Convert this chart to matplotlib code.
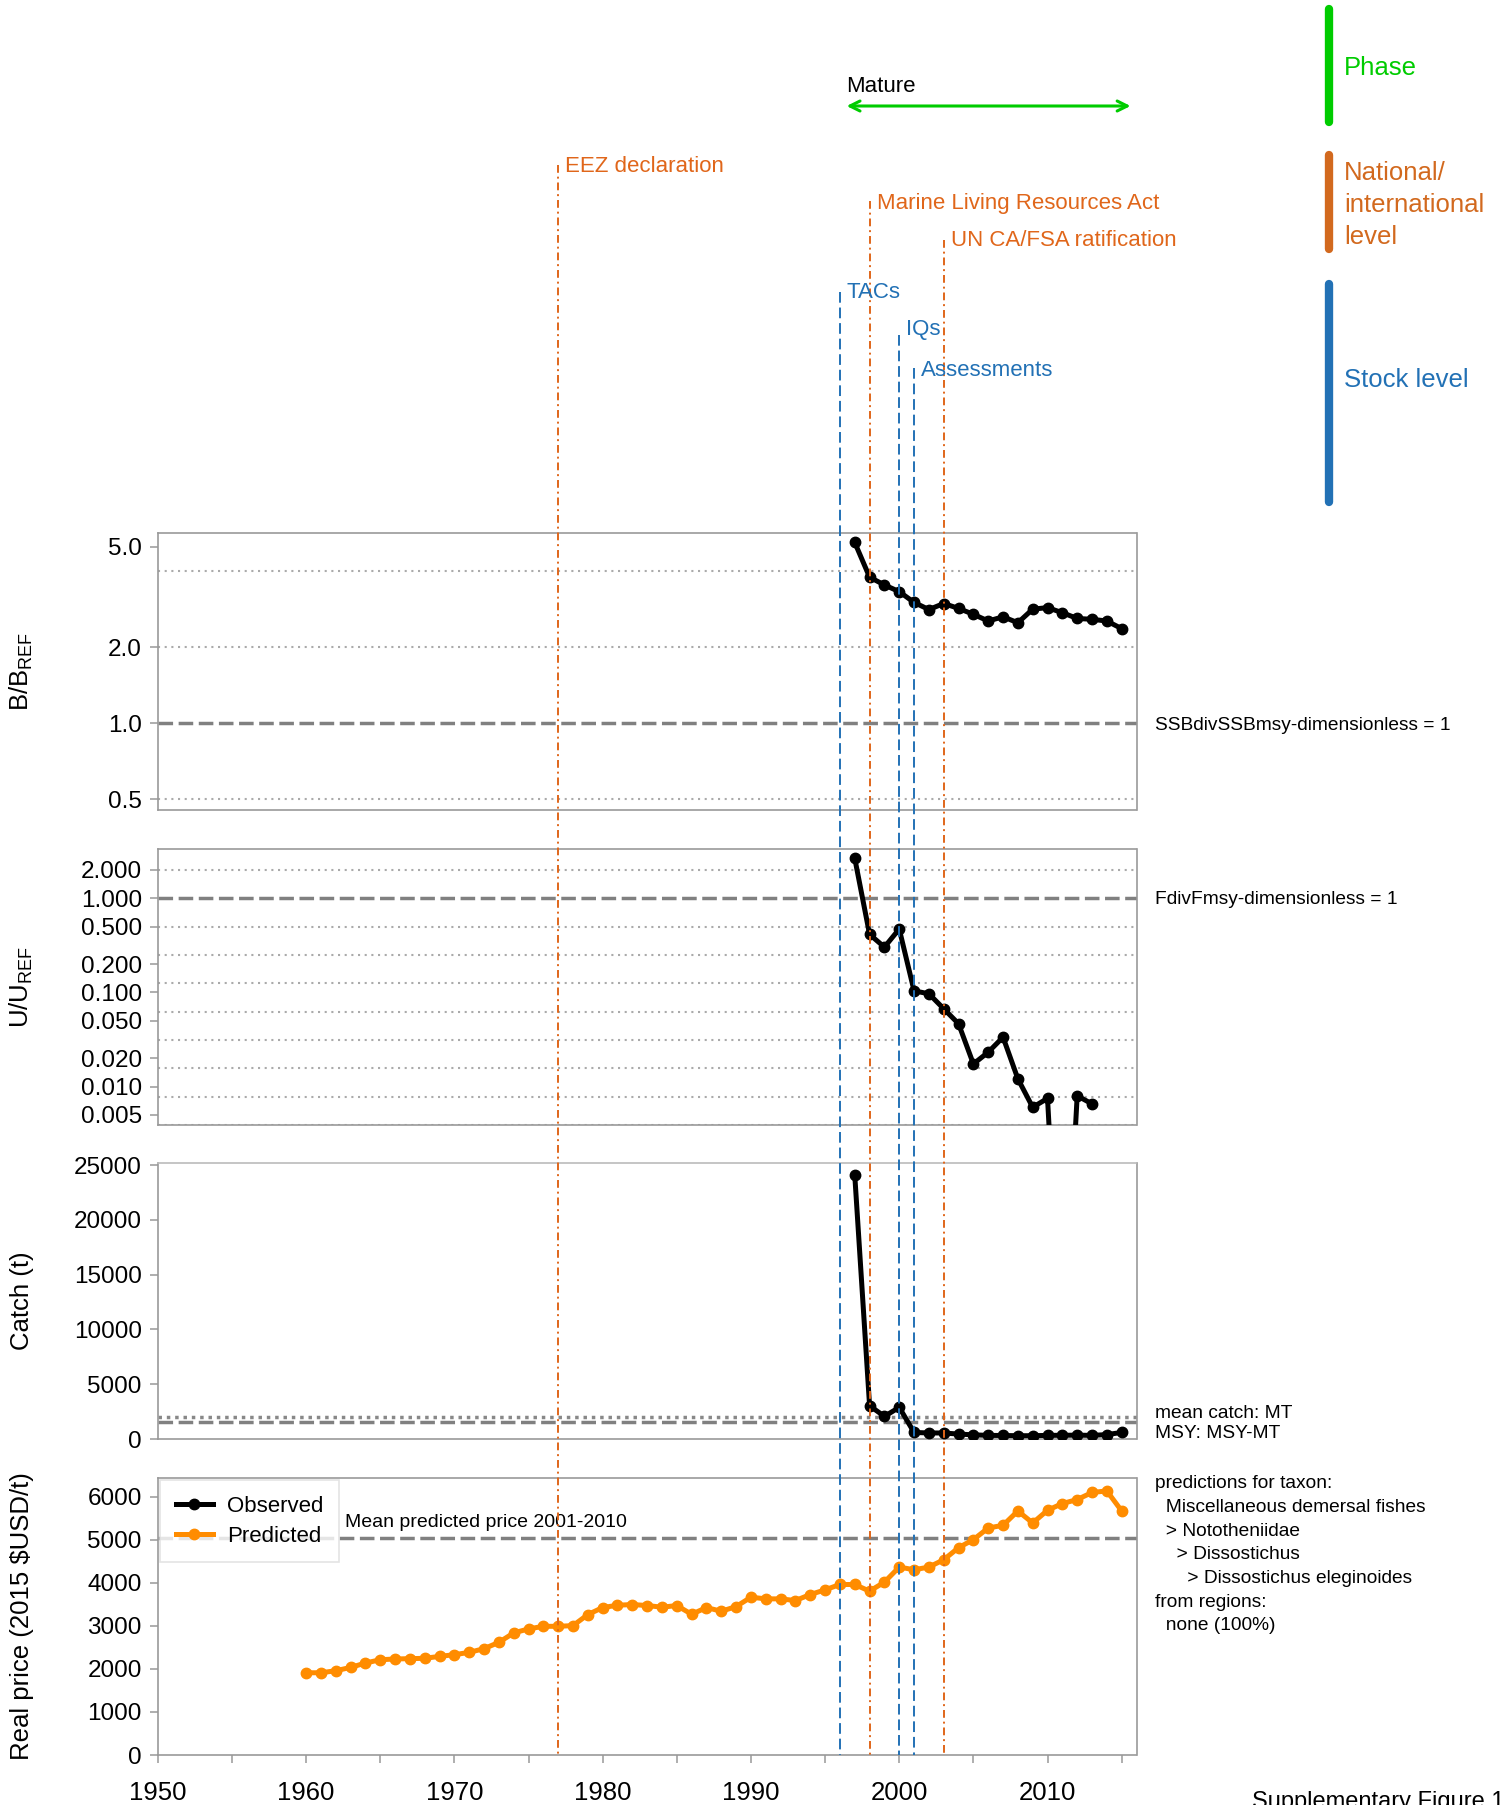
import numpy as np
import matplotlib
matplotlib.use('Agg')
import matplotlib.pyplot as plt
from matplotlib.ticker import FixedLocator, NullLocator, FixedFormatter

plt.rcParams['font.family'] = ['Liberation Sans', 'DejaVu Sans']
plt.rcParams['mathtext.fontset'] = 'custom'
plt.rcParams['mathtext.rm'] = 'Liberation Sans'
plt.rcParams['mathtext.it'] = 'Liberation Sans:italic'

# ---------------------------------------------------------------
# data
# ---------------------------------------------------------------
stock_years = np.arange(1997, 2016)
b_ratio = [5.2, 3.79, 3.53, 3.32, 3.01, 2.82, 2.98, 2.85, 2.70, 2.54,
           2.64, 2.50, 2.83, 2.87, 2.74, 2.60, 2.58, 2.54, 2.37]
u_ratio = [2.66, 0.414, 0.303, 0.472, 0.104, 0.0968, 0.0671, 0.0465, 0.0174, 0.0232,
           0.0335, 0.0121, 0.00603, 0.0075, 1e-5, 0.0080, 0.00655, np.nan, np.nan]
catch = [24090, 3040, 2065, 2890, 600, 550, 550, 450, 380, 330,
         320, 300, 300, 330, 340, 350, 330, 400, 600]
msy = 1520

price_years = np.arange(1960, 2016)
price_pred = [1912, 1912, 1959, 2036, 2138, 2215, 2232, 2240, 2248, 2293,
              2332, 2386, 2472, 2619, 2838, 2931, 2992, 2992, 3008, 3265,
              3428, 3482, 3498, 3475, 3436, 3475, 3272, 3428, 3342, 3451,
              3669, 3630, 3630, 3591, 3731, 3840, 3964, 3964, 3809, 4019,
              4369, 4307, 4369, 4540, 4820, 5007, 5278, 5340, 5674, 5394,
              5690, 5846, 5939, 6103, 6140, 5674]

# management events
event_years = [1977, 1998, 2003, 1996, 2000, 2001]
event_labels = ['EEZ declaration', 'Marine Living Resources Act', 'UN CA/FSA ratification',
                'TACs', 'IQs', 'Assessments']
event_level = ['national', 'national', 'national', 'stock', 'stock', 'stock']
event_top = [165, 201, 240, 292, 335, 368]    # pixel rows where the lines start
label_row = [166, 203, 241, 293, 329, 370]    # pixel rows of the labels

phase_name = 'Mature'
phase_start, phase_end = 1997, 2015

b_ticks = [0.5, 1.0, 2.0, 5.0]
u_ticks = [0.005, 0.01, 0.02, 0.05, 0.1, 0.2, 0.5, 1.0, 2.0]

taxon_text = ('predictions for taxon:\n'
              '  Miscellaneous demersal fishes\n'
              '  > Nototheniidae\n'
              '    > Dissostichus\n'
              '      > Dissostichus eleginoides\n'
              'from regions:\n'
              '  none (100%)')

# colours
GREEN = '#00CC00'
ORANGE = '#D2691E'
EV_ORANGE = '#E0661A'
BLUE = '#2271B5'
PRED = '#FF8C00'
REFGRAY = '#808080'
DOTGRAY = '#AAAAAA'

# ---------------------------------------------------------------
# figure
# ---------------------------------------------------------------
W, H = 1505, 1805
fig = plt.figure(figsize=(W / 100, H / 100), dpi=100)

def fx(px):
    return px / W

def fy(py):
    return 1 - py / H

left, right = 157.8, 1136.5
panels_px = [(533, 809.5), (848.5, 1125), (1163, 1439), (1478, 1755)]
axes = []
for top, bot in panels_px:
    ax = fig.add_axes([fx(left), fy(bot), fx(right - left), (bot - top) / H])
    ax.set_xlim(1950, 2016)
    for s in ax.spines.values():
        s.set_color('#999999')
        s.set_linewidth(1.2)
    ax.tick_params(axis='y', labelsize=17.5, length=5.5, width=1.1, color='#999999', pad=6)
    ax.tick_params(axis='x', labelsize=18.5, length=5.5, width=1.1, color='#999999', pad=13.5)
    ax.set_xticks([])
    axes.append(ax)

ax1, ax2, ax3, ax4 = axes
dotted = dict(color=DOTGRAY, lw=1.5, linestyle=(0, (1, 2.2)), zorder=1)
dashed = dict(color=REFGRAY, lw=2.5, linestyle=(0, (4.2, 1.6)), zorder=1)
line_kw = dict(color='black', lw=3.6, marker='o', markersize=7.5, zorder=3)

# B / Bref
ax1.set_yscale('log')
ax1.set_ylim(0.455, 5.67)
for v in [0.5, 2.0, 4.0]:
    ax1.axhline(v, **dotted)
ax1.axhline(1.0, **dashed)
ax1.plot(stock_years, b_ratio, **line_kw)
ax1.yaxis.set_major_locator(FixedLocator(b_ticks))
ax1.yaxis.set_major_formatter(FixedFormatter(['%.1f' % t for t in b_ticks]))
ax1.yaxis.set_minor_locator(NullLocator())
ax1.set_ylabel(r'B/B$_{\mathrm{REF}}$', fontsize=18.5, va='center')
fig.text(fx(1155), fy(725), 'SSBdivSSBmsy-dimensionless = 1', fontsize=13.8, va='center')

# U / Uref
ax2.set_yscale('log')
ax2.set_ylim(0.00391, 3.38)
for k in [1, -1, -2, -3, -4, -5, -6, -7, -8]:
    ax2.axhline(2.0 ** k, **dotted)
ax2.axhline(1.0, **dashed)
ax2.plot(stock_years, u_ratio, **line_kw)
ax2.yaxis.set_major_locator(FixedLocator(u_ticks))
ax2.yaxis.set_major_formatter(FixedFormatter(['%.3f' % t for t in u_ticks]))
ax2.yaxis.set_minor_locator(NullLocator())
ax2.set_ylabel(r'U/U$_{\mathrm{REF}}$', fontsize=18.5, va='center')
fig.text(fx(1155), fy(900), 'FdivFmsy-dimensionless = 1', fontsize=13.8, va='center')

# Catch
mean_catch = np.mean(catch)
ax3.set_ylim(0, 25200)
ax3.axhline(mean_catch, color='#888888', lw=2.5, linestyle=(0, (1, 1.4)), zorder=1)
ax3.axhline(msy, **dashed)
ax3.plot(stock_years, catch, **line_kw)
ax3.set_yticks(range(0, 25001, 5000))
ax3.spines['top'].set_color('#BBBBBB')
ax3.set_ylabel('Catch (t)', fontsize=18.5, va='center')
fig.text(fx(1155), fy(1413), 'mean catch: MT', fontsize=13.8, va='center')
fig.text(fx(1155), fy(1433), 'MSY: MSY-MT', fontsize=13.8, va='center')

# Price
mean_price = np.mean(price_pred[41:51])   # 2001-2010
ax4.set_ylim(0, 6440)
ax4.axhline(mean_price, **dashed)
ax4.plot([], [], color='black', lw=3.6, marker='o', markersize=7.5, label='Observed')
ax4.plot(price_years, price_pred, color=PRED, lw=3.6, marker='o', markersize=7.5,
         label='Predicted', zorder=3)
ax4.set_yticks(range(0, 6001, 1000))
ax4.text(1962.65, mean_price + 370, 'Mean predicted price 2001-2010', fontsize=14, va='center')
ax4.set_ylabel('Real price (2015 $USD/t)', fontsize=18.5, va='center')
xt = list(range(1950, 2016, 5))
ax4.set_xticks(xt)
ax4.set_xticklabels([str(y) if y % 10 == 0 else '' for y in xt])
leg = ax4.legend(loc='upper left', fontsize=16, frameon=True, fancybox=False,
                 borderaxespad=0.1, handlelength=1.7, handletextpad=0.6,
                 borderpad=0.7, labelspacing=0.4)
leg.get_frame().set_edgecolor('#DDDDDD')
leg.get_frame().set_linewidth(1.2)

fig.text(fx(1155), fy(1475.5), taxon_text, fontsize=13.8, va='top', ha='left', linespacing=1.51)

for ax in axes:
    ax.yaxis.set_label_coords(-0.139, 0.5)

# ---------------------------------------------------------------
# overlay: events, phase, legend bars (pixel rows on y)
# ---------------------------------------------------------------
ov = fig.add_axes([fx(left), 0, fx(right - left), 1], facecolor='none')
ov.set_xlim(1950, 2016)
ov.set_ylim(H, 0)
ov.axis('off')

for yr, lab, lvl, top, row in zip(event_years, event_labels, event_level, event_top, label_row):
    if lvl == 'national':
        col, ls = EV_ORANGE, (0, (4, 2, 1, 2))
    else:
        col, ls = BLUE, (0, (5.5, 2.5))
    ov.plot([yr, yr], [top, 1755], color=col, lw=1.4, linestyle=ls)
    ov.annotate(lab, (yr, row), xytext=(5, 0), textcoords='offset points',
                color=col, fontsize=16, va='center', ha='left')

# phase arrow
ov.annotate('', xy=(phase_end + 0.6, 106), xytext=(phase_start - 0.55, 106),
            arrowprops=dict(arrowstyle='<->', color=GREEN, lw=2.2, mutation_scale=18,
                            shrinkA=0, shrinkB=0))
ov.text(phase_start - 0.55, 87, phase_name, fontsize=16, va='center', ha='left')

# category bars on the right
fig.add_artist(plt.Line2D([fx(1329), fx(1329)], [fy(9), fy(122)], color=GREEN, lw=6,
                          solid_capstyle='round'))
fig.add_artist(plt.Line2D([fx(1329), fx(1329)], [fy(155), fy(249)], color=ORANGE, lw=6,
                          solid_capstyle='round'))
fig.add_artist(plt.Line2D([fx(1329), fx(1329)], [fy(284), fy(502)], color=BLUE, lw=6,
                          solid_capstyle='round'))
fig.text(fx(1344), fy(68), 'Phase', color=GREEN, fontsize=18.5, va='center')
fig.text(fx(1344), fy(205), 'National/\ninternational\nlevel', color=ORANGE, fontsize=18.5,
         va='center', linespacing=1.4)
fig.text(fx(1344), fy(380), 'Stock level', color=BLUE, fontsize=18.5, va='center')

fig.text(fx(1252), fy(1808), 'Supplementary Figure 1', fontsize=17, va='baseline')

fig.savefig('out.png', dpi=100)
